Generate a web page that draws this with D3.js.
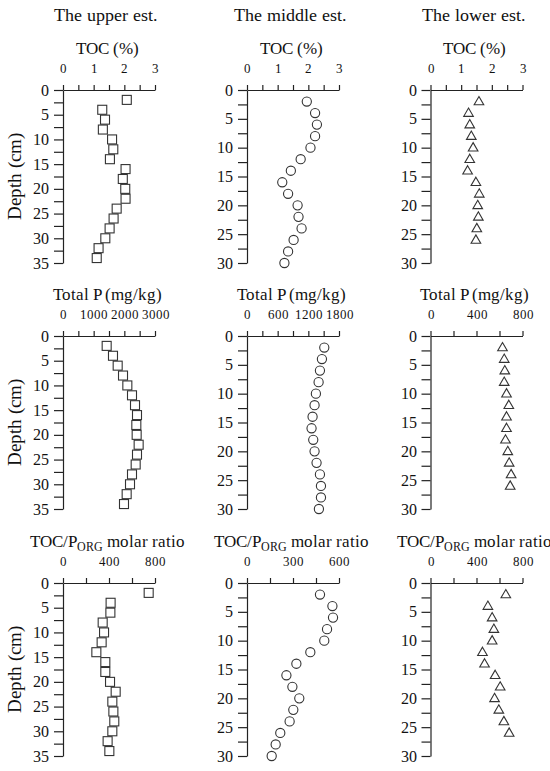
<!DOCTYPE html>
<html><head><meta charset="utf-8">
<style>
@font-face{font-family:"LSerif";src:local("Liberation Serif"),local("LiberationSerif"),local("LiberationSerif-Regular"),local("Times New Roman");}
body{margin:0;background:#fff;}
</style>
<script src="https://cdn.jsdelivr.net/npm/d3@7"></script>
</head>
<body>
<svg id="c" width="550" height="771"></svg>
<script>
// ---- data ----
const estuaries = ["The upper est.", "The middle est.", "The lower est."];
const depthUpper = [2,4,6,8,10,12,14,16,18,20,22,24,26,28,30,32,34];
const depthMiddle = [2,4,6,8,10,12,14,16,18,20,22,24,26,28,30];
const depthLower = [2,4,6,8,10,12,14,16,18,20,22,24,26];

const tocUpper  = [2.08,1.28,1.37,1.30,1.60,1.64,1.53,2.04,1.95,2.03,2.04,1.75,1.65,1.52,1.38,1.16,1.10];
const tocMiddle = [1.95,2.22,2.28,2.22,2.07,1.75,1.43,1.15,1.34,1.65,1.68,1.78,1.52,1.34,1.22];
const tocLower  = [1.58,1.24,1.28,1.33,1.39,1.28,1.21,1.48,1.59,1.54,1.56,1.51,1.48];

const tpUpper  = [1424,1630,1783,1957,2098,2250,2348,2413,2391,2402,2467,2413,2370,2250,2185,2076,1989];
const tpMiddle = [1512,1466,1427,1401,1348,1322,1283,1263,1296,1322,1361,1427,1447,1447,1407];
const tpLower  = [626,641,646,641,661,681,661,661,652,672,684,701,693];

const ratioUpper  = [745,414,412,345,357,336,290,368,368,409,458,429,438,446,429,388,403];
const ratioMiddle = [476,557,561,522,504,413,322,257,296,341,302,278,217,187,161];
const ratioLower  = [655,499,536,551,536,452,470,562,606,557,594,638,684];

const depthMax = [35, 30, 30];
const depthTicks = [[0,2.5,5,7.5,10,12.5,15,17.5,20,22.5,25,27.5,30,32.5,35],
                    [0,2.5,5,7.5,10,12.5,15,17.5,20,22.5,25,27.5,30],
                    [0,2.5,5,7.5,10,12.5,15,17.5,20,22.5,25,27.5,30]];

const tocTicks = [0,0.5,1,1.5,2,2.5,3];
const tocLabels = [0,1,2,3];
const tpTicks = [[0,500,1000,1500,2000,2500,3000],[0,300,600,900,1200,1500,1800],[0,200,400,600,800]];
const tpLabels = [[0,1000,2000,3000],[0,600,1200,1800],[0,400,800]];
const ratioTicks = [[0,200,400,600,800],[0,150,300,450,600],[0,200,400,600,800]];
const ratioLabels = [[0,400,800],[0,300,600],[0,400,800]];

const depths = [depthUpper, depthMiddle, depthLower];
const rows = [
  {title:"toc", values:[tocUpper,tocMiddle,tocLower], ticks:[tocTicks,tocTicks,tocTicks], labels:[tocLabels,tocLabels,tocLabels]},
  {title:"tp", values:[tpUpper,tpMiddle,tpLower], ticks:tpTicks, labels:tpLabels},
  {title:"ratio", values:[ratioUpper,ratioMiddle,ratioLower], ticks:ratioTicks, labels:ratioLabels}
];
const markers = ["square","circle","triangle"];

// ---- layout ----
const FONT = "LSerif,'Liberation Serif','Times New Roman',Tinos,serif";
const colX = [63, 247, 430.5];
const panelW = 92;
const rowY = [90, 336, 583];
const panelH = 173;

function styleText(sel, size){
  return sel.style("font-family",FONT).attr("font-size",size).attr("fill","#111");
}

function draw(){
  const svg = d3.select("#c");
  svg.selectAll("*").remove();

  estuaries.forEach((t,i)=>{
    styleText(svg.append("text").attr("x", colX[i]+panelW/2-3).attr("y", 21)
      .attr("text-anchor","middle").text(t), 18);
  });

  rows.forEach((row, r)=>{
    styleText(svg.append("text")
      .attr("transform",`translate(21,${rowY[r]+panelH/2}) rotate(-90)`)
      .attr("text-anchor","middle").text("Depth (cm)"), 19);
    for(let c=0;c<3;c++){
      const ticks = row.ticks[c];
      const xMax = ticks[ticks.length-1];
      const x = d3.scaleLinear().domain([0,xMax]).range([0,panelW]);
      const y = d3.scaleLinear().domain([0,depthMax[c]]).range([0,panelH]);
      const g = svg.append("g").attr("transform",`translate(${colX[c]},${rowY[r]})`);

      const tt = styleText(g.append("text").attr("x", panelW/2-2).attr("y",-36)
        .attr("text-anchor","middle"), 17);
      if(row.title==="toc") tt.text("TOC (%)");
      else if(row.title==="tp") tt.text("Total P (mg/kg)");
      else {
        tt.append("tspan").text("TOC/P");
        tt.append("tspan").attr("font-size",12).attr("dy",4).text("ORG");
        tt.append("tspan").attr("dy",-4).text(" molar ratio");
      }

      const labs = row.labels[c];
      const xAxis = d3.axisTop(x).tickValues(ticks).tickSize(5).tickSizeOuter(0).tickPadding(12)
        .tickFormat(d=> labs.includes(d) ? String(d) : "");
      const gx = g.append("g").call(xAxis).attr("font-family",null);
      styleText(gx.selectAll("text"), 13);
      gx.selectAll("line,path").attr("stroke","#222").attr("stroke-width",1.2);

      const yAxis = d3.axisLeft(y).tickValues(depthTicks[c]).tickSize(9).tickSizeOuter(0).tickPadding(5)
        .tickFormat(d=> d%5===0 ? String(d) : "");
      const gy = g.append("g").call(yAxis).attr("font-family",null);
      styleText(gy.selectAll("text"), 16);
      gy.selectAll("line,path").attr("stroke","#222").attr("stroke-width",1.2);

      const data = depths[c].map((d,i)=>({d, v: row.values[c][i]}));
      const m = markers[c];
      const pts = g.selectAll(".pt").data(data).enter();
      if(m==="square"){
        pts.append("rect").attr("x",p=>x(p.v)-4.5).attr("y",p=>y(p.d)-4.5)
          .attr("width",9).attr("height",9)
          .attr("fill","#fff").attr("stroke","#333").attr("stroke-width",1.1);
      } else if(m==="circle"){
        pts.append("circle").attr("cx",p=>x(p.v)).attr("cy",p=>y(p.d)).attr("r",4.6)
          .attr("fill","#fff").attr("stroke","#333").attr("stroke-width",1.1);
      } else {
        const sym = d3.symbol().type(d3.symbolTriangle).size(40);
        pts.append("path").attr("d",sym)
          .attr("transform",p=>`translate(${x(p.v)},${y(p.d)+0.5})`)
          .attr("fill","#fff").attr("stroke","#333").attr("stroke-width",1.1);
      }
    }
  });
}
draw();
if (document.fonts && document.fonts.load) {
  document.fonts.load("17px LSerif").then(draw).catch(()=>{});
}
</script></body></html>
